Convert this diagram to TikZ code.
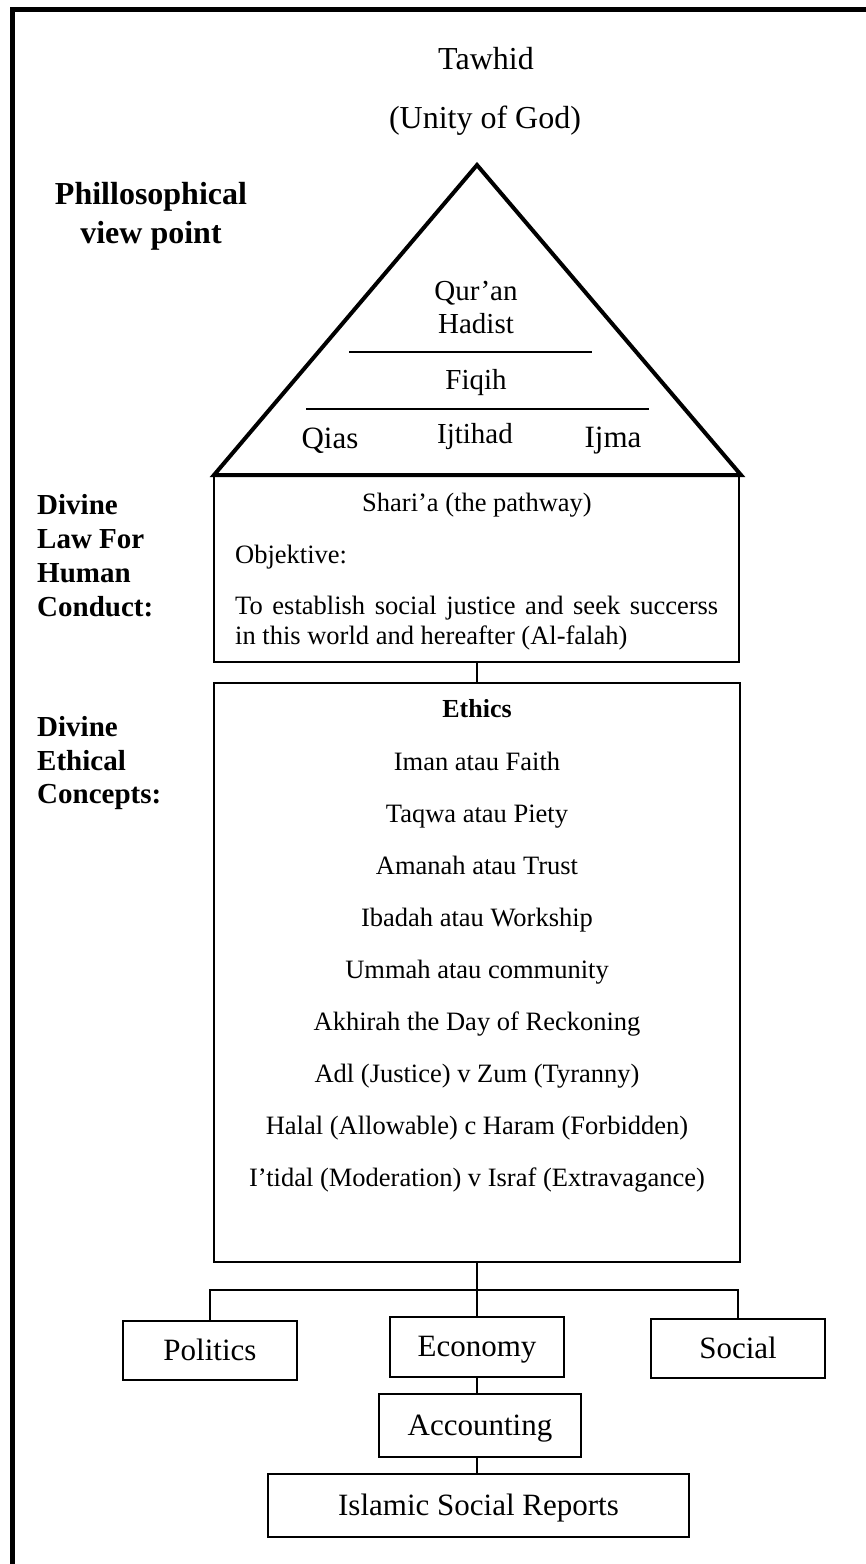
\documentclass[tikz,border=0pt]{standalone}
\usepackage{fontspec}
\setmainfont{Liberation Serif}
\begin{document}
\begin{tikzpicture}[x=1pt,y=-1pt,
  frame/.style={line width=5pt, line cap=butt},
  tri/.style={line width=4pt, line join=miter},
  thin/.style={line width=1.4pt},
  box/.style={draw, line width=1.4pt, inner sep=0pt, outer sep=0pt},
  lbl/.style={font=\fontsize{31}{36}\selectfont, text height=23pt, text depth=4pt},
  txt/.style={anchor=base, inner sep=0pt, font=\fontsize{26.5}{30}\selectfont},
  tritxt/.style={anchor=base, inner sep=0pt, font=\fontsize{29}{34}\selectfont},
  title/.style={anchor=base, inner sep=0pt, font=\fontsize{32}{38}\selectfont},
  side/.style={anchor=base west, inner sep=0pt, font=\fontsize{29}{34}\selectfont\bfseries},
]
\useasboundingbox (0,0) rectangle (866,1564);
% outer frame (left and top edges)
\draw[frame] (12,1570) -- (12,9.5) -- (872,9.5);

% title
\node[title] (tawhid) at (486,69) {Tawhid};
\node[title] (unity) at (485,128) {(Unity of God)};

% left labels
\node[anchor=base, inner sep=0pt, font=\fontsize{32}{38}\selectfont\bfseries] (phil1) at (151,204) {Phillosophical};
\node[anchor=base, inner sep=0pt, font=\fontsize{32}{38}\selectfont\bfseries] (phil2) at (151,243) {view point};

\node[side] (dl1) at (37,514) {Divine};
\node[side] (dl2) at (37,548) {Law For};
\node[side] (dl3) at (37,582) {Human};
\node[side] (dl4) at (37,616) {Conduct:};

\node[side] (de1) at (37,736) {Divine};
\node[side] (de2) at (37,770) {Ethical};
\node[side] (de3) at (37,803) {Concepts:};

% Shari'a box
\node[box, minimum width=525pt, minimum height=187pt] (sharia) at (476.5,568.5) {};
\node[txt] (shtitle) at (477,511) {Shari’a (the pathway)};
\node[txt, anchor=base west] (obj) at (235,563) {Objektive:};
\node[txt, anchor=base west] (goal1) at (235,614) {\makebox[483pt][s]{To establish social justice and seek succerss}};
\node[txt, anchor=base west] (goal2) at (235,644) {in this world and hereafter (Al-falah)};

% triangle
\coordinate (tl) at (214,475);
\coordinate (apex) at (477,165);
\coordinate (tr) at (741,475);
\draw[tri] (tl) -- (apex) -- (tr) -- cycle;
\node[tritxt] (quran) at (476,300) {Qur’an};
\node[tritxt] (hadist) at (476,333) {Hadist};
\draw[thin] (349,352) -- (592,352);
\node[tritxt] (fiqih) at (476,389) {Fiqih};
\draw[thin] (306,409) -- (649,409);
\node[tritxt, font=\fontsize{31}{36}\selectfont] (qias) at (330,448) {Qias};
\node[tritxt] (ijtihad) at (475,443) {Ijtihad};
\node[tritxt, font=\fontsize{31}{36}\selectfont] (ijma) at (613,447) {Ijma};

% Ethics box
\node[box, minimum width=526pt, minimum height=579pt] (ethics) at (477,972.5) {};
\draw[thin] (sharia.south -| ethics.north) -- (ethics.north);
\node[txt, font=\fontsize{26}{30}\selectfont\bfseries] (eth) at (477,717) {Ethics};
\node[txt] (e1) at (477,770) {Iman atau Faith};
\node[txt] (e2) at (477,822) {Taqwa atau Piety};
\node[txt] (e3) at (477,874) {Amanah atau Trust};
\node[txt] (e4) at (477,926) {Ibadah atau Workship};
\node[txt] (e5) at (477,978) {Ummah atau community};
\node[txt] (e6) at (477,1030) {Akhirah the Day of Reckoning};
\node[txt] (e7) at (477,1082) {Adl (Justice) v Zum (Tyranny)};
\node[txt] (e8) at (477,1134) {Halal (Allowable) c Haram (Forbidden)};
\node[txt] (e9) at (477,1186) {I’tidal (Moderation) v Israf (Extravagance)};

% bottom boxes
\node[box, lbl, minimum width=174pt, minimum height=59pt] (politics) at (210,1350.5) {Politics};
\node[box, lbl, minimum width=174pt, minimum height=60pt] (economy) at (477,1347) {Economy};
\node[box, lbl, minimum width=174pt, minimum height=59pt] (social) at (738,1348.5) {Social};
\node[box, lbl, minimum width=202pt, minimum height=63pt] (accounting) at (480,1425.5) {Accounting};
\node[box, lbl, minimum width=421pt, minimum height=63pt] (isr) at (478.5,1505.5) {Islamic Social Reports};

\coordinate (bar) at (477,1290);
\draw[thin] (ethics.south) -- (bar);
\draw[thin] (politics.north) |- (bar) -| (social.north);
\draw[thin] (bar) -- (economy.north);
\draw[thin] (economy.south) -- (economy.south |- accounting.north);
\draw[thin] (economy.south |- accounting.south) -- (economy.south |- isr.north);
\end{tikzpicture}
\end{document}
